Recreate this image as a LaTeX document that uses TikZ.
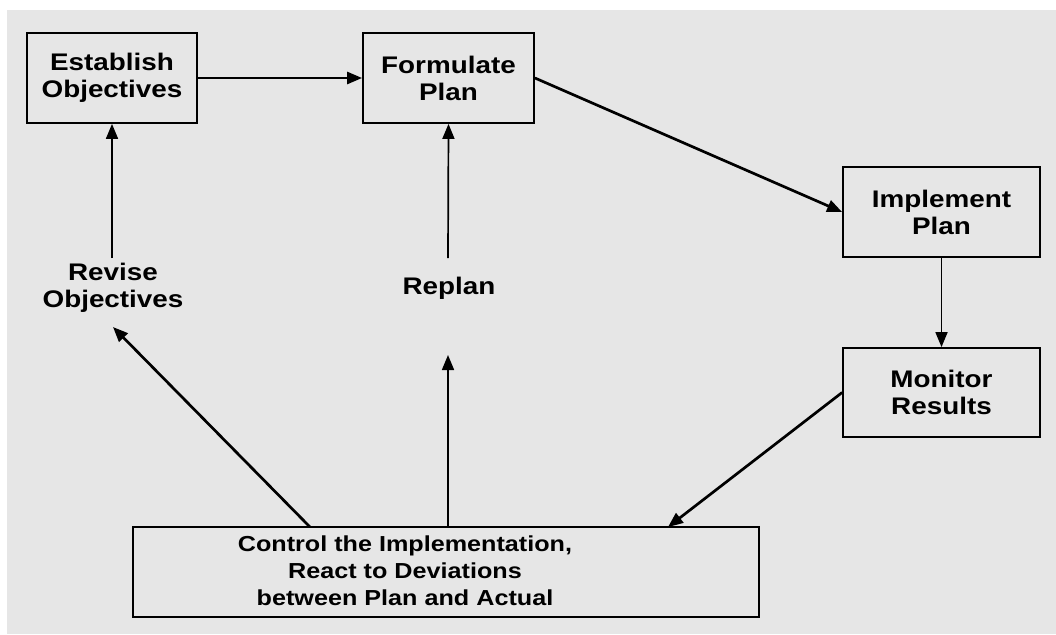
\documentclass[tikz,border=0pt]{standalone}
\usepackage{fontspec}
\setmainfont[FakeStretch=1.16]{Liberation Sans}
\usetikzlibrary{arrows.meta}
\definecolor{panel}{RGB}{230,230,230}
\begin{document}
\begin{tikzpicture}[x=1pt,y=-1pt,
  every node/.style={font=\fontsize{24}{27}\selectfont\bfseries, align=center},
  stepbox/.style={draw=black, line width=1.8pt, inner sep=0pt},
  lbl/.style={inner sep=2pt},
  smalltext/.style={font=\fontsize{21.7}{27}\selectfont\bfseries},
  tip/.style={-{Triangle[length=15pt,width=12pt]}},
  thinarrow/.style={tip, line width=1.7pt},
  thickarrow/.style={tip, line width=2.7pt}]
  \useasboundingbox (0,0) rectangle (1056,634);
  \fill[white] (0,0) rectangle (1056,634);
  \fill[panel] (7,10) rectangle (1056,634);

  % process boxes
  \node[stepbox, minimum width=170pt, minimum height=90pt] (est) at (112,78) {Establish\\Objectives};
  \node[stepbox, minimum width=171pt, minimum height=90pt] (form) at (448.5,78) {Formulate\\Plan};
  \node[stepbox, minimum width=197pt, minimum height=90pt] (impl) at (941.5,212) {Implement\\Plan};
  \node[stepbox, minimum width=197pt, minimum height=89pt] (mon) at (941.5,392.5) {Monitor\\Results};
  \node[stepbox, minimum width=626pt, minimum height=90pt] (ctl) at (446,572) {};
  \node[lbl, smalltext] (ctltext) at (405,571) {Control the Implementation,\\React to Deviations\\between Plan and Actual};

  % feedback labels
  \node[lbl] (rev) at (113,288) {Revise\\Objectives};
  \node[lbl] (rep) at (449,288) {Replan};

  % connector end points on the control box and below the labels
  \coordinate (ctlA) at (310,527);
  \coordinate (ctlB) at (448,527);
  \coordinate (ctlC) at (668,527);
  \coordinate (revB) at (113,327);
  \coordinate (repB) at (448,355);
  \coordinate (revT) at (112,258);
  \coordinate (repT) at (448,258);

  % main cycle
  \draw[thickarrow] (est.east) -- (form.west);
  \draw[thickarrow] (form.east) -- (impl.west);
  \draw[thinarrow] (impl.south) -- (mon.north);
  \draw[thickarrow] (mon.west) -- (ctlC);

  % feedback paths
  \draw[thickarrow] (ctlA) -- (revB);
  \draw[thinarrow] (ctlB) -- (repB);
  \draw[thinarrow] (revT) -- (est.south);
  \draw[thinarrow] (repT) -- (form.south);
\end{tikzpicture}
\end{document}
